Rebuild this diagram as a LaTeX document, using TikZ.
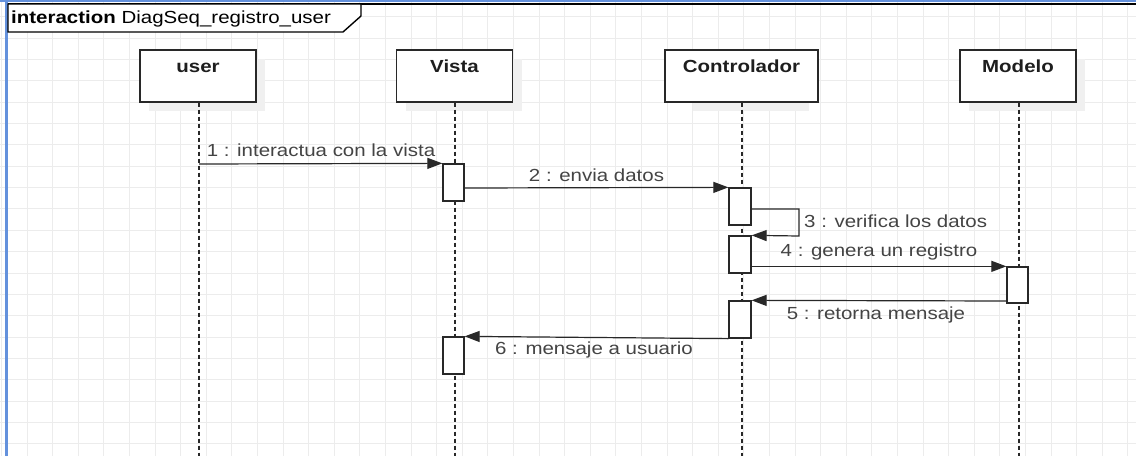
\documentclass[tikz,border=0pt]{standalone}
\usepackage{fontspec}
\setmainfont[FakeStretch=1.17]{Liberation Sans}
\usetikzlibrary{arrows.meta}
\definecolor{gridc}{RGB}{236,236,236}
\definecolor{linec}{RGB}{40,40,40}
\definecolor{txtc}{RGB}{68,68,68}
\definecolor{ttlc}{RGB}{30,30,30}
\definecolor{bluec}{RGB}{100,145,220}
\definecolor{shadc}{RGB}{240,240,240}
\tikzset{
  headbox/.style={draw=linec, line width=1.4pt, fill=white, minimum width=116pt, minimum height=52pt, inner sep=0pt},
  actbox/.style={draw=linec, line width=1.3pt, fill=white, minimum width=21pt, minimum height=37pt, inner sep=0pt},
  lifeline/.style={draw=linec, line width=1.4pt, dash pattern=on 4pt off 3pt},
  msg/.style={draw=linec, line width=1.2pt, -{Triangle[length=15pt,width=11pt]}},
  msgtxt/.style={text=txtc, font=\fontsize{17.5}{20}\selectfont, inner sep=0pt},
  ttl/.style={text=ttlc, font=\fontsize{17.5}{20}\selectfont\bfseries, inner sep=0pt, text height=11pt, text depth=4pt, anchor=north, yshift=-11.5pt},
}
\begin{document}
\begin{tikzpicture}[x=1pt,y=-1pt]
\useasboundingbox (0,0) rectangle (1136,456);
\fill[white] (0,0) rectangle (1136,456);
% grid
\foreach \i in {0,...,44} \draw[gridc, line width=1pt] ({1.4+25.6*\i},0) -- ({1.4+25.6*\i},456);
\foreach \j in {0,...,21} \draw[gridc, line width=1pt] (0,{16.8+21.35*\j}) -- (1136,{16.8+21.35*\j});
% frame
\draw[black, line width=1.4pt] (7,456) -- (7,4) -- (1136,4);
\draw[bluec, line width=2pt] (0,1.2) -- (1136,1.2);
\draw[bluec, line width=3pt] (6.5,0) -- (6.5,456);
\filldraw[draw=black, fill=white, line width=1.4pt] (8,4) -- (361,4) -- (361,16) -- (343,32) -- (8,32) -- cycle;
\node[anchor=base west, inner sep=0pt, text=black, font=\fontsize{17.5}{20}\selectfont] (ftitle) at (11,23.5) {\textbf{interaction} DiagSeq\_registro\_user};
% lifeline ends
\coordinate (ue) at (199,456);
\coordinate (ve) at (455,456);
\coordinate (ce) at (742,456);
\coordinate (me) at (1019,456);
% shadows
\foreach \cx in {198,454.5,741.5,1018} \fill[shadc] ({\cx-58+9},59) rectangle ({\cx+58+9},111);
% heads
\node[headbox, label={[ttl]north:user}] (u) at (198,76) {};
\node[headbox, label={[ttl]north:Vista}] (v) at (454.5,76) {};
\node[headbox, minimum width=153pt, label={[ttl]north:Controlador}] (c) at (741.5,76) {};
\node[headbox, label={[ttl]north:Modelo}] (m) at (1018,76) {};
% lifelines
\draw[lifeline] (u.south -| ue) -- (ue);
\draw[lifeline] (v.south -| ve) -- (ve);
\draw[lifeline] (c.south -| ce) -- (ce);
\draw[lifeline] (m.south -| me) -- (me);
% activations
\node[actbox] (va1) at (453.5,182.5) {};
\node[actbox, minimum width=22pt] (ca1) at (740,206.5) {};
\node[actbox, minimum width=22pt] (ca2) at (740,254.5) {};
\node[actbox, minimum height=36pt] (ma1) at (1017.5,285) {};
\node[actbox, minimum width=22pt] (ca3) at (740,319.5) {};
\node[actbox] (va2) at (453.5,355.5) {};
% messages
\coordinate (m1s) at (199,164);
\draw[msg] (m1s) -- (va1.north west);
\node[msgtxt] (l1) at (321,150) {1 : interactua con la vista};
\coordinate (m2s) at (464,188);
\draw[msg] (va1.east |- m2s) -- (ca1.north west);
\node[msgtxt] (l2) at (596.5,175) {2 : envia datos};
\coordinate (m3a) at (751,209);
\coordinate (m3b) at (799,209);
\coordinate (m3c) at (799,236);
\draw[msg] (ca1.east |- m3a) -- (m3b) -- (m3c) -- (ca2.north east);
\node[msgtxt, anchor=west] (l3) at (804,221) {3 : verifica los datos};
\draw[msg] (ca2.east |- ma1.north) -- (ma1.north west);
\node[msgtxt] (l4) at (879,252) {4 : genera un registro};
\coordinate (m5s) at (1007,301);
\draw[msg] (ma1.west |- m5s) -- (ca3.north east);
\node[msgtxt] (l5) at (876,314.5) {5 : retorna mensaje};
\draw[msg] (ca3.south west) -- (va2.north east);
\node[msgtxt] (l6) at (594,350) {6 : mensaje a usuario};
\end{tikzpicture}
\end{document}
